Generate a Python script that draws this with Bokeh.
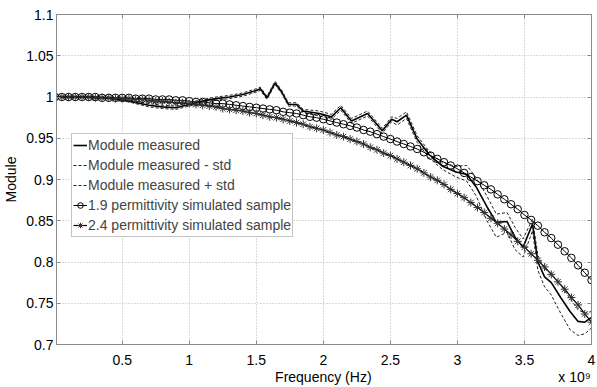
from bokeh.plotting import figure
from bokeh.models import Range1d, FixedTicker, Legend, LegendItem, LinearAxis
from bokeh.embed import file_html
from bokeh.resources import INLINE

# ---------------- data (frequency in units of 1e9 Hz) ----------------
freq_meas = [0.01, 0.2, 0.4, 0.55, 0.7, 0.8, 0.9, 1.0, 1.1, 1.2, 1.3, 1.4, 1.5, 1.53, 1.58,
             1.64, 1.69, 1.74, 1.80, 1.85, 1.97, 2.06, 2.13, 2.21, 2.33, 2.44, 2.51, 2.55,
             2.62, 2.70, 2.79, 2.89, 2.99, 3.07, 3.14, 3.22, 3.29, 3.37, 3.43, 3.49, 3.56,
             3.60, 3.65, 3.70, 3.77, 3.84, 3.90, 3.95, 4.0]
module_measured = [1.000, 1.000, 0.999, 0.995, 0.990, 0.988, 0.987, 0.991, 0.995, 0.998, 1.000,
                   1.003, 1.008, 1.010, 0.999, 1.017, 1.006, 0.991, 0.991, 0.983, 0.980, 0.976,
                   0.987, 0.971, 0.980, 0.959, 0.973, 0.970, 0.978, 0.949, 0.930, 0.916, 0.909,
                   0.906, 0.891, 0.867, 0.848, 0.849, 0.830, 0.818, 0.846, 0.800, 0.782, 0.775,
                   0.757, 0.740, 0.728, 0.727, 0.733]
module_minus_std = [0.999, 0.999, 0.998, 0.994, 0.988, 0.986, 0.985, 0.989, 0.993, 0.996, 0.998,
                    1.001, 1.006, 1.008, 0.997, 1.015, 1.004, 0.989, 0.989, 0.981, 0.977, 0.973,
                    0.984, 0.968, 0.977, 0.956, 0.970, 0.966, 0.974, 0.945, 0.926, 0.912, 0.903,
                    0.898, 0.880, 0.850, 0.830, 0.836, 0.815, 0.806, 0.838, 0.790, 0.770, 0.760,
                    0.738, 0.718, 0.711, 0.713, 0.720]
module_plus_std = [1.001, 1.001, 1.000, 0.996, 0.992, 0.990, 0.989, 0.993, 0.997, 1.000, 1.002,
                   1.005, 1.010, 1.012, 1.001, 1.019, 1.008, 0.993, 0.993, 0.985, 0.983, 0.979,
                   0.990, 0.974, 0.983, 0.962, 0.976, 0.974, 0.982, 0.953, 0.934, 0.920, 0.916,
                   0.917, 0.902, 0.880, 0.858, 0.860, 0.842, 0.828, 0.852, 0.808, 0.792, 0.786,
                   0.772, 0.756, 0.742, 0.738, 0.740]

freq_sim = [0.0, 0.05, 0.1, 0.15, 0.2, 0.25, 0.3, 0.35, 0.4, 0.45, 0.5, 0.55, 0.6, 0.65, 0.7,
            0.75, 0.8, 0.85, 0.9, 0.95, 1.0, 1.05, 1.1, 1.15, 1.2, 1.25, 1.3, 1.35, 1.4, 1.45,
            1.5, 1.55, 1.6, 1.65, 1.7, 1.75, 1.8, 1.85, 1.9, 1.95, 2.0, 2.05, 2.1, 2.15, 2.2,
            2.25, 2.3, 2.35, 2.4, 2.45, 2.5, 2.55, 2.6, 2.65, 2.7, 2.75, 2.8, 2.85, 2.9, 2.95,
            3.0, 3.05, 3.1, 3.15, 3.2, 3.25, 3.3, 3.35, 3.4, 3.45, 3.5, 3.55, 3.6, 3.65, 3.7,
            3.75, 3.8, 3.85, 3.9, 3.95, 4.0]
sim_perm_19 = [1.000, 1.000, 1.000, 1.000, 1.000, 1.000, 1.000, 0.999, 0.999, 0.999, 0.999,
               0.999, 0.998, 0.998, 0.998, 0.997, 0.997, 0.997, 0.996, 0.996, 0.995, 0.994,
               0.994, 0.993, 0.992, 0.992, 0.991, 0.990, 0.989, 0.988, 0.987, 0.986, 0.985,
               0.984, 0.982, 0.981, 0.980, 0.978, 0.976, 0.975, 0.973, 0.971, 0.969, 0.967,
               0.965, 0.963, 0.960, 0.958, 0.955, 0.952, 0.949, 0.946, 0.943, 0.940, 0.937,
               0.933, 0.929, 0.925, 0.921, 0.917, 0.913, 0.908, 0.903, 0.898, 0.893, 0.888,
               0.882, 0.876, 0.870, 0.864, 0.857, 0.851, 0.844, 0.836, 0.829, 0.821, 0.813,
               0.805, 0.796, 0.787, 0.778]
sim_perm_24 = [1.000, 1.000, 1.000, 1.000, 1.000, 1.000, 0.999, 0.999, 0.999, 0.998, 0.998,
               0.998, 0.997, 0.997, 0.996, 0.995, 0.995, 0.994, 0.993, 0.993, 0.992, 0.991,
               0.990, 0.989, 0.988, 0.986, 0.985, 0.984, 0.983, 0.981, 0.980, 0.978, 0.976,
               0.975, 0.973, 0.971, 0.969, 0.967, 0.964, 0.962, 0.960, 0.957, 0.954, 0.952,
               0.949, 0.946, 0.943, 0.939, 0.936, 0.932, 0.929, 0.925, 0.921, 0.917, 0.913,
               0.908, 0.903, 0.899, 0.894, 0.888, 0.883, 0.878, 0.872, 0.866, 0.860, 0.853,
               0.847, 0.840, 0.833, 0.825, 0.818, 0.810, 0.802, 0.794, 0.785, 0.776, 0.767,
               0.757, 0.748, 0.737, 0.727]

x_ticks = [0.5, 1.0, 1.5, 2.0, 2.5, 3.0, 3.5, 4.0]
x_tick_labels = ["0.5", "1", "1.5", "2", "2.5", "3", "3.5", "4"]
y_ticks = [0.7, 0.75, 0.8, 0.85, 0.9, 0.95, 1.0, 1.05, 1.1]
y_tick_labels = ["0.7", "0.75", "0.8", "0.85", "0.9", "0.95", "1", "1.05", "1.1"]
x_label = "Frequency (Hz)"
x_exponent = "x 10\u2079"
y_label = "Module"

FONT = "Liberation Sans"
NB = "\u00a0"

p = figure(width=597, height=387, output_backend="svg", toolbar_location=None,
           x_range=Range1d(0.01, 4.0), y_range=Range1d(0.7, 1.1),
           min_border_left=10, min_border_right=6, min_border_top=14, min_border_bottom=4)
p.outline_line_color = "#8a8a8a"
p.outline_line_width = 1
p.background_fill_color = "white"

for ax in (p.xaxis[0], p.yaxis[0]):
    ax.axis_line_color = "#8a8a8a"
    ax.major_tick_line_color = "#8a8a8a"
    ax.major_tick_in = 4
    ax.major_tick_out = 0
    ax.minor_tick_line_color = None
    ax.major_label_text_font = FONT
    ax.major_label_text_font_size = "14px"
    ax.major_label_text_color = "black"
    ax.axis_label_text_font = FONT
    ax.axis_label_text_font_size = "14px"
    ax.axis_label_text_font_style = "normal"
    ax.axis_label_text_color = "black"

p.xaxis.ticker = FixedTicker(ticks=x_ticks)
p.xaxis.major_label_overrides = dict(zip(x_ticks, x_tick_labels))
# axis title centred under the frame, with the MATLAB-style exponent at the right end
p.xaxis.axis_label = NB * 56 + x_label + NB * 48 + x_exponent
p.xaxis.major_label_standoff = 10
p.xaxis.axis_label_standoff = 1

p.yaxis.ticker = FixedTicker(ticks=y_ticks)
p.yaxis.major_label_overrides = dict(zip(y_ticks, y_tick_labels))
p.yaxis.axis_label = y_label
p.yaxis.major_label_standoff = 3
p.yaxis.axis_label_standoff = 4

# box ticks on the right and top sides (labels not drawn)
box_axis_style = dict(major_label_text_font_size="1px", major_label_text_color=None,
                      major_label_standoff=0, major_tick_in=4, major_tick_out=0,
                      axis_line_color="#8a8a8a", major_tick_line_color="#8a8a8a",
                      minor_tick_line_color=None)
p.add_layout(LinearAxis(ticker=FixedTicker(ticks=y_ticks), **box_axis_style), "right")
p.add_layout(LinearAxis(ticker=FixedTicker(ticks=x_ticks), **box_axis_style), "above")

for g in (p.xgrid[0], p.ygrid[0]):
    g.grid_line_color = "#b4b4b4"
    g.grid_line_dash = "1 2"
    g.grid_line_width = 1
p.xgrid.ticker = FixedTicker(ticks=x_ticks)
p.ygrid.ticker = FixedTicker(ticks=y_ticks)

r_meas = p.line(freq_meas, module_measured, line_color="black", line_width=1.6)
r_minus = p.line(freq_meas, module_minus_std, line_color="#222222", line_width=1, line_dash="3 2")
r_plus = p.line(freq_meas, module_plus_std, line_color="#222222", line_width=1, line_dash="3 2")
r19l = p.line(freq_sim, sim_perm_19, line_color="black", line_width=1)
r19m = p.scatter(freq_sim, sim_perm_19, marker="circle", size=7.5, line_color="black",
                 fill_color=None, line_width=1)
r24l = p.line(freq_sim, sim_perm_24, line_color="black", line_width=1.2)
r24m = p.scatter(freq_sim, sim_perm_24, marker="asterisk", size=8, line_color="#333333",
                 line_width=1)

legend = Legend(items=[
    LegendItem(label="Module measured", renderers=[r_meas]),
    LegendItem(label="Module measured - std", renderers=[r_minus]),
    LegendItem(label="Module measured + std", renderers=[r_plus]),
    LegendItem(label="1.9 permittivity simulated sample", renderers=[r19l, r19m]),
    LegendItem(label="2.4 permittivity simulated sample", renderers=[r24l, r24m]),
], location=(15, 107))
legend.label_text_font = FONT
legend.label_text_font_size = "14px"
legend.label_height = 20
legend.glyph_height = 20
legend.glyph_width = 14
legend.label_standoff = 1
legend.spacing = 0
legend.padding = 1
legend.margin = 0
legend.border_line_color = "#8a8a8a"
legend.border_line_width = 1
legend.background_fill_color = "white"
legend.background_fill_alpha = 1
p.add_layout(legend)

open("out.html", "w").write(file_html(p, INLINE))
